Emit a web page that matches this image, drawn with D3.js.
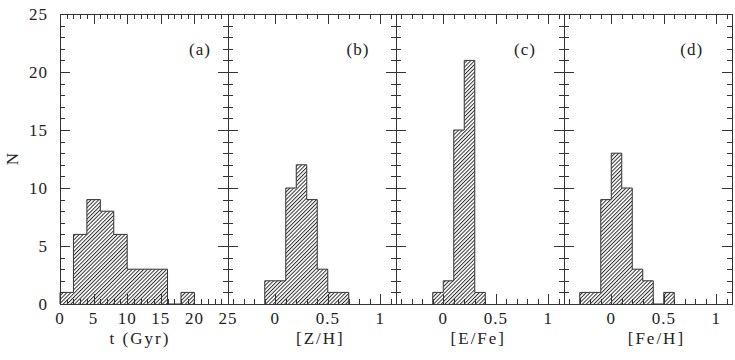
<!DOCTYPE html>
<html><head><meta charset="utf-8">
<script src="https://cdn.jsdelivr.net/npm/d3@7"></script>
<style>body{margin:0;background:#fff}</style>
</head><body><svg id="c" width="735" height="360"></svg>
<script>
// ---- data ----
const panelNames = ["(a)", "(b)", "(c)", "(d)"];
const axisTitles = ["t (Gyr)", "[Z/H]", "[E/Fe]", "[Fe/H]"];
// panel (a): age histogram, 2 Gyr bins starting at 0
const ageBinStart = 0, ageBinWidth = 2;
const ageCounts = [1, 6, 9, 8, 6, 3, 3, 3, 0, 1];
// panel (b): [Z/H], 0.1 dex bins starting at -0.1
const zhBinStart = -0.1, zhBinWidth = 0.1;
const zhCounts = [2, 2, 10, 12, 9, 3, 1, 1];
// panel (c): [E/Fe], 0.1 dex bins starting at -0.1
const efeBinStart = -0.1, efeBinWidth = 0.1;
const efeCounts = [1, 2, 15, 21, 1];
// panel (d): [Fe/H], 0.1 dex bins starting at -0.3
const fehBinStart = -0.3, fehBinWidth = 0.1;
const fehCounts = [1, 1, 9, 13, 10, 3, 2, 0, 1];
// axes
const ageDomain = [0, 25], abDomain = [-0.45, 1.15], nDomain = [0, 25];
const ageTickLabels = [0, 5, 10, 15, 20, 25];
const abTickLabels = [0, 0.5, 1];
const nTickLabels = [0, 5, 10, 15, 20, 25];

// ---- layout ----
const FONT = "'Liberation Serif', 'DejaVu Serif', 'Times New Roman', serif";
const svg = d3.select("#c");
const L = 60, T = 14, B = 304, PW = 168;
const y = d3.scaleLinear().domain(nDomain).range([B, T]);
const defs = svg.append("defs");
const pat = defs.append("pattern").attr("id", "hatch").attr("patternUnits", "userSpaceOnUse")
  .attr("width", 2.7).attr("height", 2.7).attr("patternTransform", "rotate(45)");
pat.append("line").attr("x1", 0.5).attr("y1", 0).attr("x2", 0.5).attr("y2", 2.7)
  .attr("stroke", "#333").attr("stroke-width", 1);

const panels = [
  {counts: ageCounts, start: ageBinStart, w: ageBinWidth, domain: ageDomain,
   minor: d3.range(0, 25.01, 1), major: d3.range(0, 25.01, 5), labels: ageTickLabels, labelFrac: 0.833, titleFrac: 0.476},
  {counts: zhCounts, start: zhBinStart, w: zhBinWidth, domain: abDomain,
   minor: d3.range(-4, 12).map(d => d / 10), major: [0, 0.5, 1], labels: abTickLabels, labelFrac: 0.774, titleFrac: 0.55},
  {counts: efeCounts, start: efeBinStart, w: efeBinWidth, domain: abDomain,
   minor: d3.range(-4, 12).map(d => d / 10), major: [0, 0.5, 1], labels: abTickLabels, labelFrac: 0.768, titleFrac: 0.49},
  {counts: fehCounts, start: fehBinStart, w: fehBinWidth, domain: abDomain,
   minor: d3.range(-4, 12).map(d => d / 10), major: [0, 0.5, 1], labels: abTickLabels, labelFrac: 0.76, titleFrac: 0.55}
];

const ink = "#333";
const txt = (sel) => sel.attr("font-family", FONT).attr("font-size", 17).attr("fill", "#222");
panels.forEach((p, i) => {
  const x0 = L + i * PW;
  const x = d3.scaleLinear().domain(p.domain).range([x0, x0 + PW]);
  const g = svg.append("g");
  // histogram step outline
  const pts = [[p.start, 0]];
  p.counts.forEach((c, k) => {
    const lo = p.start + k * p.w, hi = lo + p.w;
    pts.push([lo, c]); pts.push([hi, c]);
  });
  pts.push([p.start + p.counts.length * p.w, 0]);
  const line = d3.line().x(d => x(d[0])).y(d => y(d[1]));
  g.append("path").attr("d", line(pts)).attr("fill", "url(#hatch)").attr("stroke", ink).attr("stroke-width", 1);

  // ticks
  const tk = g.append("g").attr("stroke", ink).attr("stroke-width", 1);
  const minorLen = 5, majorLen = 10;
  p.minor.forEach(v => {
    const isMaj = p.major.some(m => Math.abs(m - v) < 1e-9);
    const len = isMaj ? majorLen : minorLen;
    const xv = Math.round(x(v)) + 0.5;
    tk.append("line").attr("x1", xv).attr("x2", xv).attr("y1", B).attr("y2", B - len);
    tk.append("line").attr("x1", xv).attr("x2", xv).attr("y1", T).attr("y2", T + len);
  });
  d3.range(0, 25.01, 1).forEach(v => {
    const len = v % 5 === 0 ? majorLen : minorLen;
    const yv = Math.round(y(v)) + 0.5;
    tk.append("line").attr("x1", x0).attr("x2", x0 + len).attr("y1", yv).attr("y2", yv);
    tk.append("line").attr("x1", x0 + PW).attr("x2", x0 + PW - len).attr("y1", yv).attr("y2", yv);
  });
  // frame
  g.append("rect").attr("x", x0 + 0.5).attr("y", T + 0.5).attr("width", PW).attr("height", B - T)
    .attr("fill", "none").attr("stroke", ink).attr("stroke-width", 1);

  // tick labels
  p.labels.forEach(v => {
    txt(g.append("text")).attr("x", x(v)).attr("y", 324).attr("text-anchor", "middle")
      .attr("letter-spacing", 1).text(v);
  });
  // axis title
  txt(g.append("text")).attr("x", x0 + PW * p.titleFrac).attr("y", 344).attr("text-anchor", "middle")
    .attr("letter-spacing", 2).text(axisTitles[i]);
  // panel label
  txt(g.append("text")).attr("x", x0 + PW * p.labelFrac).attr("y", 55).attr("text-anchor", "middle")
    .attr("letter-spacing", 1).text(panelNames[i]);
});

// y tick labels (left of panel a)
nTickLabels.forEach(v => {
  txt(svg.append("text")).attr("x", 48).attr("y", y(v) + 6).attr("text-anchor", "end")
    .attr("letter-spacing", 1).text(v);
});
txt(svg.append("text")).attr("transform", `translate(18,${(T + B) / 2}) rotate(-90)`)
  .attr("text-anchor", "middle").text("N");
</script></body></html>
